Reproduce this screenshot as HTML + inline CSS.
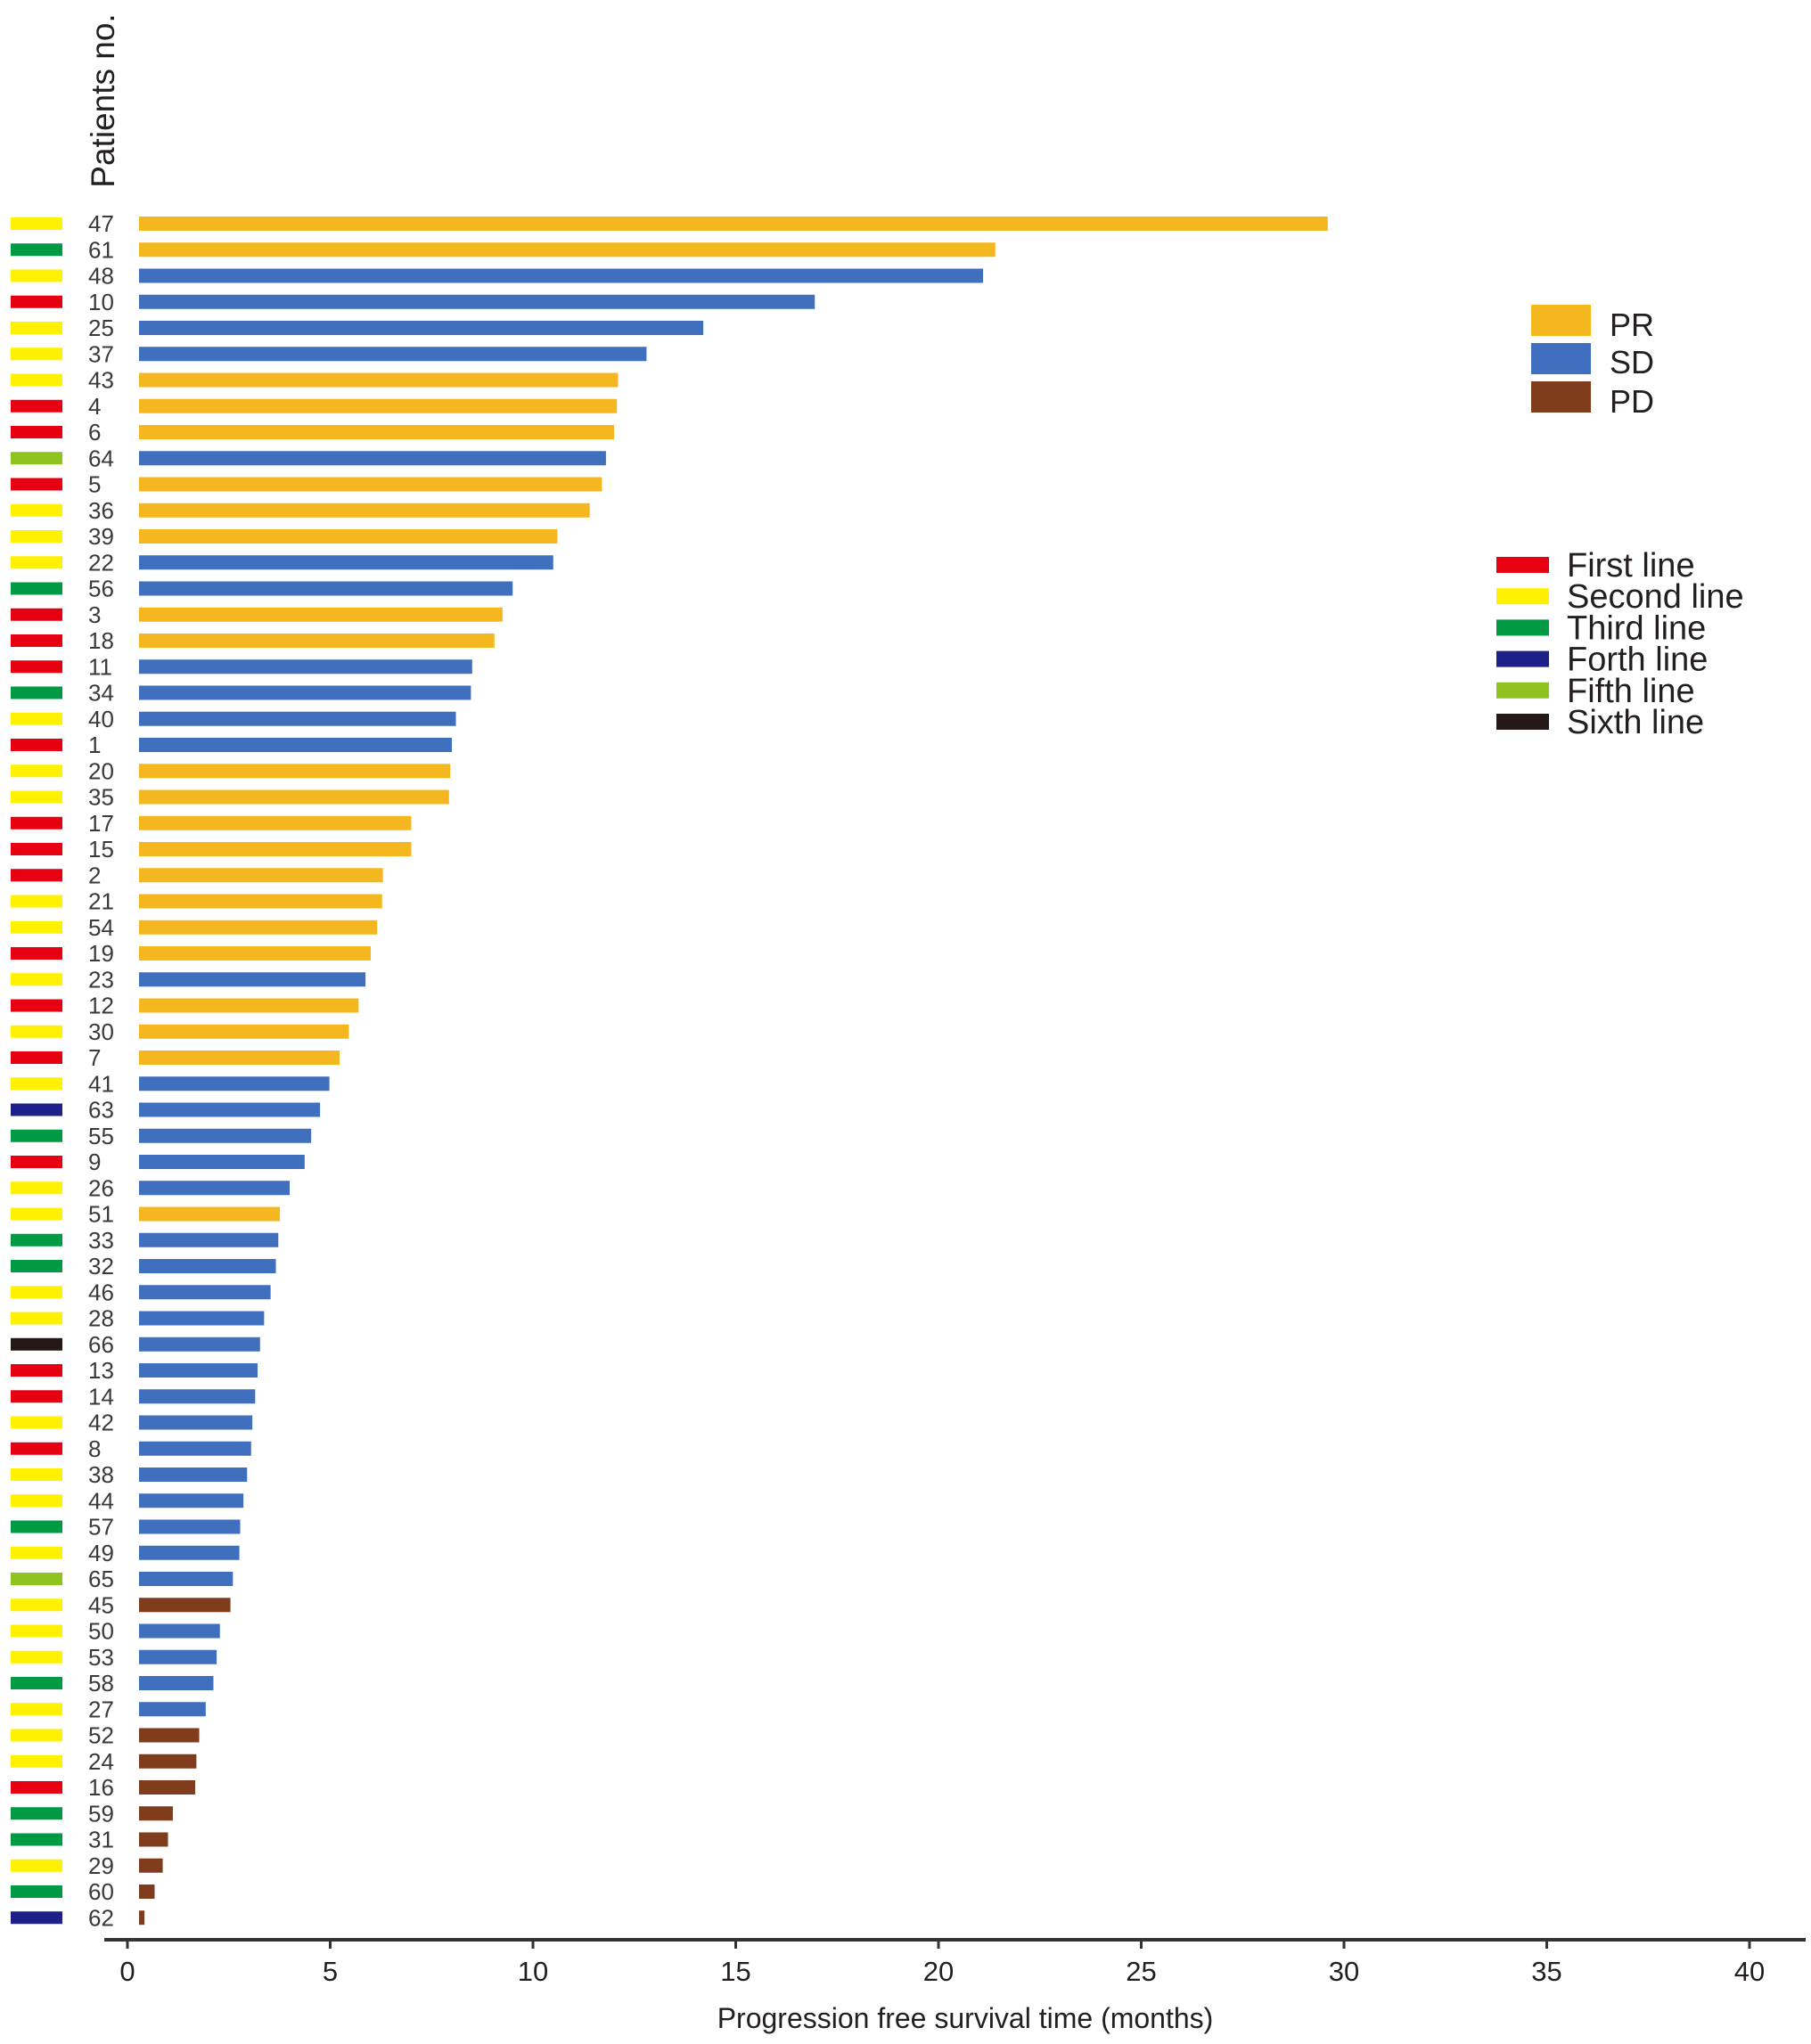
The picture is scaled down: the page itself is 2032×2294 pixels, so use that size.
<!DOCTYPE html>
<html><head><meta charset="utf-8"><style>
body{margin:0;background:#fff;}
svg{display:block;font-family:"Liberation Sans",Arial,sans-serif;}
</style></head><body>
<svg id="chart" width="2032" height="2294" viewBox="0 0 2032 2294" xmlns="http://www.w3.org/2000/svg">
<rect width="2032" height="2294" fill="#fff"/>
<g id="bars"></g>
<g id="axis"></g>
<text transform="translate(128,113) rotate(-90)" text-anchor="middle" font-size="37" fill="#231f20">Patients no.</text>
<text x="1083" y="2276" text-anchor="middle" font-size="32" fill="#231f20">Progression free survival time (months)</text>
<g>
<rect x="1718" y="342" width="67" height="35" fill="#f4b71f"/>
<text x="1806" y="377" font-size="36" fill="#231f20">PR</text>
<rect x="1718" y="385" width="67" height="35" fill="#3f6fbd"/>
<text x="1806" y="419" font-size="36" fill="#231f20">SD</text>
<rect x="1718" y="428" width="67" height="35" fill="#7f3d1e"/>
<text x="1806" y="463" font-size="36" fill="#231f20">PD</text>
</g>
<g id="lineLegend"></g>
</svg>
<script>
const patients=[47,61,48,10,25,37,43,4,6,64,5,36,39,22,56,3,18,11,34,40,1,20,35,17,15,2,21,54,19,23,12,30,7,41,63,55,9,26,51,33,32,46,28,66,13,14,42,8,38,44,57,49,65,45,50,53,58,27,52,24,16,59,31,29,60,62];
const pfs=[29.6,21.4,21.1,16.95,14.2,12.8,12.1,12.07,12.0,11.8,11.7,11.4,10.6,10.5,9.5,9.25,9.05,8.5,8.47,8.1,8.0,7.96,7.93,7.0,7.0,6.3,6.28,6.16,6.0,5.87,5.7,5.46,5.23,4.98,4.75,4.53,4.37,4.0,3.76,3.72,3.66,3.53,3.37,3.27,3.21,3.15,3.08,3.05,2.95,2.86,2.78,2.76,2.6,2.54,2.28,2.2,2.12,1.93,1.77,1.7,1.67,1.12,1.0,0.87,0.67,0.42];
const response=["PR","PR","SD","SD","SD","SD","PR","PR","PR","SD","PR","PR","PR","SD","SD","PR","PR","SD","SD","SD","SD","PR","PR","PR","PR","PR","PR","PR","PR","SD","PR","PR","PR","SD","SD","SD","SD","SD","PR","SD","SD","SD","SD","SD","SD","SD","SD","SD","SD","SD","SD","SD","SD","PD","SD","SD","SD","SD","PD","PD","PD","PD","PD","PD","PD","PD"];
const lineOfTx=[2,3,2,1,2,2,2,1,1,5,1,2,2,2,3,1,1,1,3,2,1,2,2,1,1,1,2,2,1,2,1,2,1,2,4,3,1,2,2,3,3,2,2,6,1,1,2,1,2,2,3,2,5,2,2,2,3,2,2,2,1,3,3,2,3,4];
const xTicks=[0,5,10,15,20,25,30,35,40];
const lineNames=["First line","Second line","Third line","Forth line","Fifth line","Sixth line"];

const respColor={PR:"#f4b71f",SD:"#3f6fbd",PD:"#7f3d1e"};
const lineColor=["#e60012","#fff100","#009944","#1d2088","#8fc31f","#231815"];
const NS="http://www.w3.org/2000/svg";
const X0=143,PX=45.5;
const x=v=>X0+v*PX;
const rowY=i=>251+i*29.25;
function mk(tag,attrs,parent){const e=document.createElementNS(NS,tag);for(const k in attrs)e.setAttribute(k,attrs[k]);parent.appendChild(e);return e;}
const bars=document.getElementById('bars');
patients.forEach((p,i)=>{
  const cy=rowY(i);
  const sw=mk('rect',{x:12,y:cy-7,width:58,height:14,fill:lineColor[lineOfTx[i]-1]},bars);
  
  
  const t=mk('text',{x:99,y:cy+9,'font-size':26,fill:'#3a3a3a'},bars);
  t.textContent=p;
  
  
  const b=mk('rect',{x:156,y:cy-8,width:Math.max(2,x(pfs[i])-156),height:16,fill:respColor[response[i]]},bars);
  
  
});
const ax=document.getElementById('axis');
const al=mk('line',{x1:117,y1:2177,x2:2026,y2:2177,stroke:'#333',"stroke-width":4},ax);


xTicks.forEach(v=>{
  const tk=mk('line',{x1:x(v),y1:2177,x2:x(v),y2:2187,stroke:'#333',"stroke-width":3},ax);
  
  
  const tl=mk('text',{x:x(v),y:2223,'text-anchor':'middle','font-size':31,fill:'#231f20'},ax);
  tl.textContent=v;
  
  
});
const ll=document.getElementById('lineLegend');
lineNames.forEach((n,i)=>{
  const cy=634+i*35.2;
  const r=mk('rect',{x:1679,y:cy-9,width:59,height:18,fill:lineColor[i]},ll);
  
  
  const t=mk('text',{x:1758,y:cy+13,'font-size':38,fill:'#231f20'},ll);
  t.textContent=n;
  
  
});
</script>
</body></html>
